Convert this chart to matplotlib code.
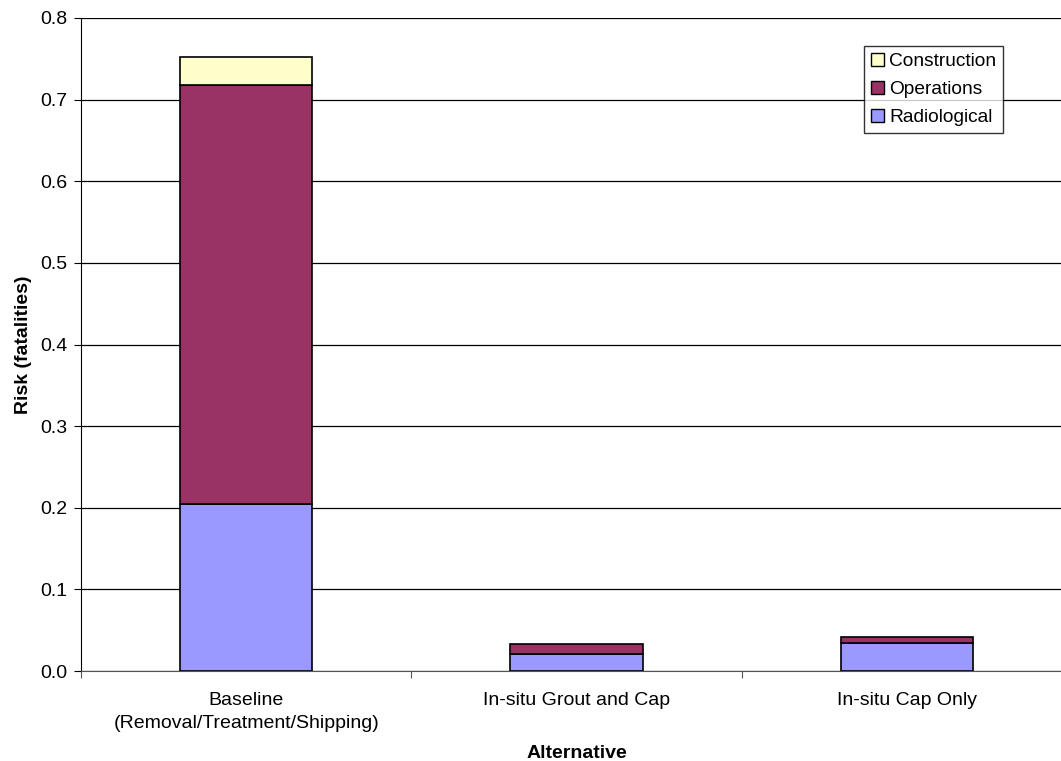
import matplotlib
matplotlib.use("Agg")
import matplotlib.pyplot as plt
import numpy as np
from matplotlib.patches import Patch

plt.rcParams['font.family'] = ['Liberation Sans', 'DejaVu Sans']

categories = ["Baseline\n(Removal/Treatment/Shipping)", "In-situ Grout and Cap", "In-situ Cap Only"]
radiological = [0.205, 0.021, 0.0347]
operations = [0.513, 0.012, 0.0073]
construction = [0.034, 0.0, 0.0]

colors = {"Radiological": "#9999FF", "Operations": "#993366", "Construction": "#FFFFCC"}

W, H = 1061, 761
fig = plt.figure(figsize=(W / 100, H / 100), dpi=100)
ax = fig.add_axes([81 / W, 1 - 671 / H, (1072 - 81) / W, (671 - 18) / H])

x = np.arange(len(categories))
width = 0.40
rad = np.array(radiological)
ops = np.array(operations)
con = np.array(construction)

ax.bar(x, rad, width, color=colors["Radiological"], edgecolor="black", linewidth=1.2, zorder=3)
ax.bar(x, ops, width, bottom=rad, color=colors["Operations"], edgecolor="black", linewidth=1.2, zorder=3)
mask = con > 0
ax.bar(x[mask], con[mask], width, bottom=(rad + ops)[mask], color=colors["Construction"],
       edgecolor="black", linewidth=1.2, zorder=3)

ax.set_xlim(-0.5, len(categories) - 0.5)
ax.set_ylim(0, 0.8)
ax.set_yticks(np.arange(0, 0.81, 0.1))
ax.set_yticklabels([f"{v:.1f}" for v in np.arange(0, 0.81, 0.1)], fontsize=14)
ax.yaxis.grid(True, color="black", linewidth=0.9, zorder=0)
ax.set_axisbelow(True)

ax.set_xticks(np.arange(-0.5, len(categories), 1.0))
ax.set_xticklabels([])
ax.set_xticks(x, minor=True)
ax.set_xticklabels(categories, minor=True, fontsize=14, linespacing=1.5)
ax.tick_params(axis="x", which="minor", length=0, pad=15)
ax.tick_params(axis="x", which="major", length=5, color="#555555")
ax.tick_params(axis="y", length=5, color="black", pad=5)

for s in ["top", "right"]:
    ax.spines[s].set_visible(False)
ax.spines["left"].set_color("black")
ax.spines["bottom"].set_color("#555555")

ax.set_ylabel("Risk (fatalities)", fontsize=14, fontweight="bold", labelpad=6)
ax.set_xlabel("Alternative", fontsize=14, fontweight="bold", labelpad=9)

handles = [Patch(facecolor=colors[k], edgecolor="black", label=k)
           for k in ["Construction", "Operations", "Radiological"]]
leg = fig.legend(handles=handles, loc="upper left", bbox_to_anchor=(864 / W, 1 - 46 / H),
                 fontsize=13.8, frameon=True, fancybox=False, edgecolor="black",
                 handlelength=0.7, handleheight=0.7, handletextpad=0.27,
                 borderpad=0.35, labelspacing=0.56, borderaxespad=0)
leg.get_frame().set_linewidth(1.0)

fig.savefig("out.png", dpi=100)
